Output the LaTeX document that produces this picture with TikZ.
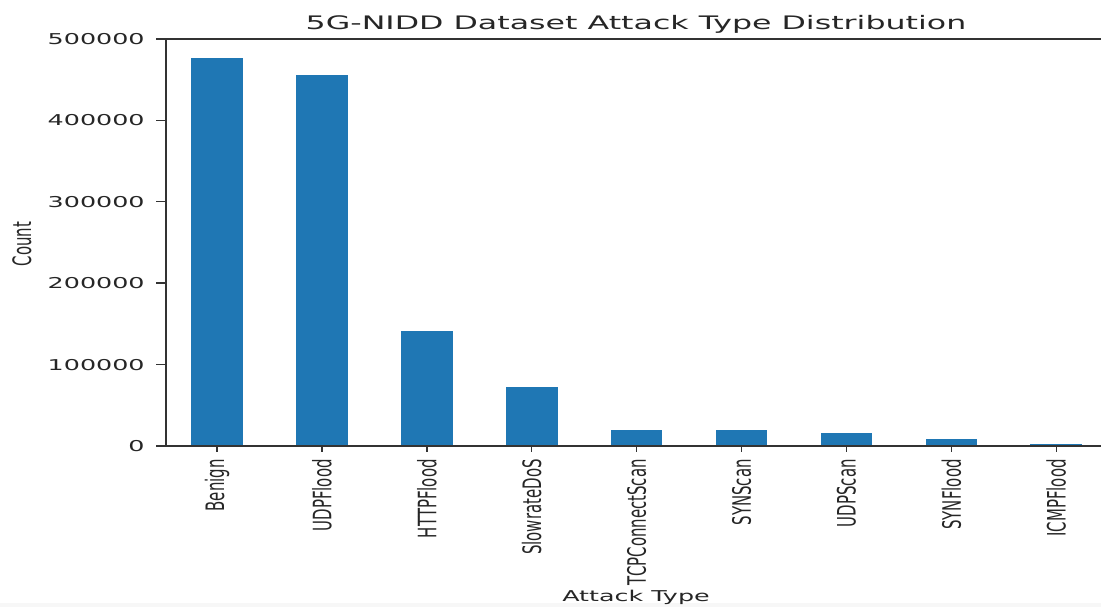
\documentclass[tikz,border=0pt]{standalone}
\usepackage{fontspec}
\setmainfont{DejaVu Sans}
\definecolor{barblue}{HTML}{1F77B4}
\newcommand{\wide}[1]{\scalebox{1.7}[1]{#1}}
\newcommand{\tall}[1]{\scalebox{1}[1.7]{#1}}
\begin{document}
\begin{tikzpicture}[x=0.02cm,y=-0.02cm,
  spine/.style={line width=0.8pt,draw=black!80},
  ticklab/.style={font=\fontsize{8.5}{10}\selectfont,text=black!85,inner sep=0pt}]
\useasboundingbox (0,0) rectangle (1101,607);
\fill[black!3] (0,603) rectangle (1101,607);
% bars, one per attack type
\foreach \lab/\val [count=\i from 0] in {Benign/476.6,UDPFlood/455.8,HTTPFlood/141.3,SlowrateDoS/72.9,TCPConnectScan/19.6,SYNScan/19.6,UDPScan/15.6,SYNFlood/9.0,ICMPFlood/2.2}{
  \pgfmathsetmacro{\xc}{217+104.9*\i}
  \fill[barblue] (\xc-25.8,446) rectangle (\xc+25.8,446-0.814*\val);
  \draw[spine] (\xc,446) -- (\xc,452);
  \node[ticklab,rotate=90,anchor=east] (x\i) at (\xc,459) {\tall{\lab}};
}
% y axis ticks
\foreach \t/\lab in {0/0,1/100000,2/200000,3/300000,4/400000,5/500000}{
  \draw[spine] (156,446-81.4*\t) -- (166,446-81.4*\t);
  \node[ticklab,anchor=east] (y\t) at (145,446-81.4*\t) {\wide{\lab}};
}
\draw[spine] (166,39) -- (166,446) -- (1101,446);
\draw[spine] (166,39) -- (1101,39);
\node[font=\fontsize{10.6}{12}\selectfont,text=black!85,anchor=base,inner sep=0pt] (title) at (636,29.5) {\wide{5G-NIDD Dataset Attack Type Distribution}};
\node[ticklab,rotate=90] (ylab) at (22,244) {\tall{Count}};
\node[ticklab,anchor=base] (xlab) at (636,601) {\wide{Attack Type}};
\end{tikzpicture}
\end{document}
